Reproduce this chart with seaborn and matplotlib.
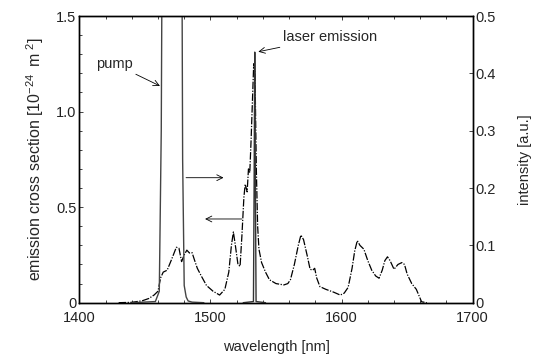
import matplotlib
matplotlib.use("Agg")
import matplotlib.pyplot as plt
import seaborn as sns
import pandas as pd
from matplotlib.ticker import MultipleLocator

# ---- data ----
wl_cs = [1430, 1440, 1448, 1453, 1457, 1460, 1462, 1464, 1467, 1470, 1474, 1476, 1478, 1480,
         1482, 1484, 1486, 1488, 1490, 1493, 1497, 1502, 1507, 1511, 1514, 1516, 1517.5, 1519,
         1521, 1522.6, 1524, 1525.5, 1526.5, 1528, 1529, 1530, 1531, 1532, 1533, 1534, 1535,
         1536, 1537, 1539, 1542, 1545, 1550, 1556, 1559, 1561, 1564, 1567, 1569, 1571, 1574,
         1576, 1578, 1579.5, 1581, 1583.5, 1588, 1594, 1599, 1602, 1605, 1608, 1610, 1612, 1614,
         1617, 1620, 1623, 1626, 1628.6, 1631, 1633, 1635, 1637, 1640, 1643, 1646, 1648, 1650,
         1653.5, 1657, 1661, 1665]
cross_section = [0, 0.002, 0.01, 0.022, 0.04, 0.06, 0.13, 0.16, 0.17, 0.22, 0.29, 0.285, 0.215,
                 0.25, 0.275, 0.26, 0.262, 0.22, 0.18, 0.14, 0.09, 0.06, 0.04, 0.07, 0.16, 0.3,
                 0.37, 0.3, 0.2, 0.19, 0.35, 0.55, 0.62, 0.58, 0.7, 0.68, 0.85, 1.05, 1.25, 1.2,
                 0.7, 0.4, 0.28, 0.21, 0.16, 0.12, 0.1, 0.093, 0.1, 0.12, 0.2, 0.3, 0.354, 0.33,
                 0.24, 0.175, 0.17, 0.18, 0.13, 0.084, 0.07, 0.055, 0.04, 0.05, 0.08, 0.18, 0.27,
                 0.325, 0.3, 0.28, 0.22, 0.17, 0.14, 0.128, 0.17, 0.22, 0.24, 0.22, 0.175, 0.2,
                 0.21, 0.2, 0.15, 0.1, 0.07, 0.005, 0]

wl_pump = [1440, 1458, 1461, 1462.5, 1463.5, 1478, 1478.8, 1480, 1481.5, 1483, 1486, 1495]
pump = [0, 0.002, 0.02, 0.3, 0.8, 0.8, 0.25, 0.03, 0.01, 0.003, 0.001, 0]

wl_laser = [1525, 1532.8, 1533.3, 1533.8, 1534.3, 1534.8, 1542]
laser = [0, 0.002, 0.2, 0.437, 0.2, 0.002, 0]

xticks = [1400, 1500, 1600, 1700]
left_ticks = [0, 0.5, 1.0, 1.5]
left_ticklabels = ["0", "0.5", "1.0", "1.5"]
right_ticks = [0, 0.1, 0.2, 0.3, 0.4, 0.5]
right_ticklabels = ["0", "0.1", "0.2", "0.3", "0.4", "0.5"]

# ---- style ----
sns.set_style("ticks")
plt.rcParams["font.family"] = ["Liberation Sans", "DejaVu Sans"]
plt.rcParams["font.size"] = 10.5
plt.rcParams["mathtext.fontset"] = "custom"
plt.rcParams["mathtext.rm"] = "Liberation Sans"
plt.rcParams["mathtext.it"] = "Liberation Sans"

FS = 10.5
fig = plt.figure(figsize=(5.36, 3.55), dpi=100)
ax = fig.add_axes([79.3 / 536, 1 - 302.7 / 355, (472.7 - 79.3) / 536, (302.7 - 16) / 355])
ax2 = ax.twinx()

df_cs = pd.DataFrame({"wl": wl_cs, "v": cross_section})
df_pump = pd.DataFrame({"wl": wl_pump, "v": pump})
df_laser = pd.DataFrame({"wl": wl_laser, "v": laser})

sns.lineplot(data=df_cs, x="wl", y="v", ax=ax, color="black", lw=0.9,
             linestyle=(0, (6, 1.2, 1, 1.2)), sort=False)
sns.lineplot(data=df_pump, x="wl", y="v", ax=ax2, color="#444444", lw=1.0, sort=False)
sns.lineplot(data=df_laser, x="wl", y="v", ax=ax2, color="#333333", lw=1.0, sort=False)

ax.set_xlim(1400, 1700)
ax.set_ylim(0, 1.5)
ax2.set_ylim(0, 0.5)
ax.set_xticks(xticks)
ax.set_xticklabels([str(t) for t in xticks])
ax.set_yticks(left_ticks)
ax.set_yticklabels(left_ticklabels)
ax2.set_yticks(right_ticks)
ax2.set_yticklabels(right_ticklabels)
ax.xaxis.set_minor_locator(MultipleLocator(20))
ax.yaxis.set_minor_locator(MultipleLocator(0.1))

for a in (ax, ax2):
    for s in a.spines.values():
        s.set_linewidth(1.0)
        s.set_color("black")
ax.tick_params(axis="both", which="both", direction="in", top=True, length=3, width=0.6,
               labelsize=FS, colors="#222222")
ax.tick_params(axis="both", which="minor", length=2)
ax.tick_params(axis="x", which="major", pad=6)
ax.tick_params(axis="y", which="major", pad=2, right=False)
ax2.tick_params(axis="y", direction="in", length=3, width=0.6, labelsize=FS, pad=2)

ax.set_xlabel("wavelength [nm]", fontsize=FS, labelpad=11)
ax.set_ylabel("emission cross section [10$^{-24}$\u2009 m\u2009$^{2}$]", fontsize=11.5, labelpad=7)
ax2.set_ylabel("intensity [a.u.]", fontsize=FS, labelpad=16)

arrow = dict(arrowstyle="->", color="black", lw=0.6, shrinkA=0, shrinkB=0)
ax.annotate("pump", xy=(1461.5, 1.134), xytext=(1441, 1.249), fontsize=FS,
            ha="right", va="center", arrowprops=arrow)
ax.annotate("laser emission", xy=(1536.5, 1.313), xytext=(1555, 1.39), fontsize=FS,
            ha="left", va="center", arrowprops=arrow)
ax.annotate("", xy=(1510, 0.654), xytext=(1481.4, 0.654), arrowprops=arrow)
ax.annotate("", xy=(1495.9, 0.438), xytext=(1523.9, 0.438), arrowprops=arrow)

fig.savefig("out.png", dpi=100)
